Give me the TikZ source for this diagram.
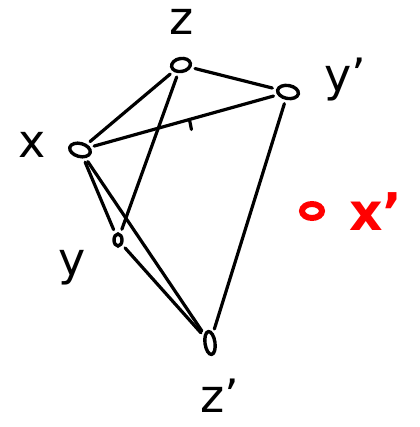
\documentclass[tikz,border=0pt]{standalone}
\usepackage{fontspec}
\setmainfont{DejaVu Sans}
\usetikzlibrary{shapes.geometric}
\definecolor{mark}{RGB}{255, 0, 0}

\begin{document}
\begin{tikzpicture}[x=1pt, y=-1pt, line cap=round,
    vertex/.style={draw, ellipse, line width=3.4pt, inner sep=0pt},
    edge/.style={line width=3.2pt, shorten <=4pt, shorten >=4pt},
    lbl/.style={font=\fontsize{46}{46}\selectfont}]
  \useasboundingbox (0,0) rectangle (419,427);

  % vertices
  \node[vertex, minimum width=19pt, minimum height=13pt, rotate=10] (z) at (181,65) {};
  \node[vertex, minimum width=21pt, minimum height=13pt, rotate=-10] (yp) at (288,92) {};
  \node[vertex, minimum width=21pt, minimum height=13pt, rotate=-15] (x) at (80,150) {};
  \node[vertex, minimum width=8pt, minimum height=12pt] (y) at (118,240) {};
  \node[vertex, minimum width=10pt, minimum height=23pt, rotate=8] (zp) at (210,343) {};
  \node[vertex, draw=mark, line width=6pt, minimum width=20pt, minimum height=14pt] (xp) at (312,211) {};

  % labels
  \node[lbl] (zl) at (182,22) {z};
  \node[lbl] (ypl) at (345,80) {y'};
  \node[lbl] (xl) at (32,145) {x};
  \node[lbl] (yl) at (72,268) {y};
  \node[lbl] (zpl) at (220,396) {z'};
  \node[lbl, text=mark, font=\fontsize{52}{52}\selectfont\bfseries] (xpl) at (376,212) {x'};

  % edges
  \draw[edge] (z) -- (x);
  \draw[edge] (z) -- (yp);
  \draw[edge] (z) -- (y);
  \draw[edge] (x) -- coordinate[pos=.53] (tick) (yp);
  \draw[line width=3.2pt] (tick) -- ++(2,10);
  \draw[edge] (x) -- (y);
  \draw[edge] (x) -- (zp);
  \draw[edge] (y) -- (zp);
  \draw[edge] (yp) -- (zp);
\end{tikzpicture}
\end{document}
